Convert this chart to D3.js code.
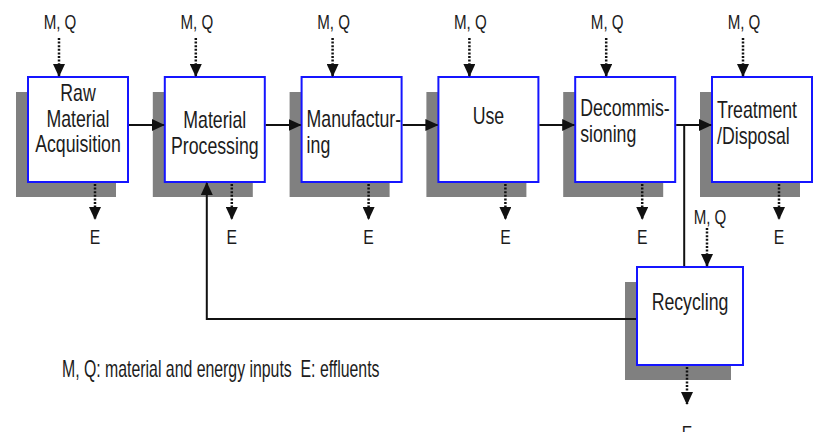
<!DOCTYPE html>
<html>
<head>
<meta charset="utf-8">
<script src="https://cdn.jsdelivr.net/npm/d3@7"></script>
<style>
  body { margin: 0; background: #fff; }
  svg { display: block; }
  text { font-family: "Liberation Sans", Arial, sans-serif; fill: #1c1c1c; white-space: pre; }
</style>
</head>
<body>
<svg id="chart" width="819" height="432"></svg>
<script>
// stages of the life cycle, in flow order
const stages = ["Raw Material Acquisition", "Material Processing", "Manufacturing",
                "Use", "Decommissioning", "Treatment/Disposal"];
const stageLines = [["Raw", "Material", "Acquisition"], ["Material", "Processing"],
                    ["Manufactur-", "ing"], ["Use"], ["Decommis-", "sioning"],
                    ["Treatment", "/Disposal"]];
const recycleStage = "Recycling";
const inputLabel = "M, Q";
const effluentLabel = "E";
const legendText = "M, Q: material and energy inputs  E: effluents";

// layout
const boxW = 100, boxH = 105, boxTop = 77;
const shadowDx = -12, shadowDy = 15;
const flowY = 125;
const labelTop = [24, 51, 50, 47, 39, 41];
const labelAlign = ["middle", "middle", "start", "middle", "start", "start"];
const lineH = 25.5;
const recycle = {cx: 690, top: 267, w: 106, h: 98};

const svg = d3.select("#chart");
const x = d3.scalePoint().domain(stages).range([78, 762]);

const defs = svg.append("defs");
defs.append("marker")
    .attr("id", "head")
    .attr("markerUnits", "userSpaceOnUse")
    .attr("viewBox", "0 0 13 12")
    .attr("markerWidth", 13)
    .attr("markerHeight", 12)
    .attr("refX", 12)
    .attr("refY", 6)
    .attr("orient", "auto")
    .append("path")
    .attr("d", "M0,0L13,6L0,12Z")
    .attr("fill", "#111");

// squeezed text, the original lettering is narrow
function label(parent, px, py, str, size, anchor, sx) {
    parent.append("g")
        .attr("transform", `translate(${px},${py}) scale(${sx},1)`)
        .append("text")
        .attr("text-anchor", anchor)
        .style("font-size", size + "px")
        .text(str);
}

function box(bx, by, w, h) {
    svg.append("rect")
        .attr("x", bx + shadowDx).attr("y", by + shadowDy)
        .attr("width", w).attr("height", h)
        .attr("fill", "#808080");
    svg.append("rect")
        .attr("x", bx).attr("y", by)
        .attr("width", w).attr("height", h)
        .attr("fill", "#fff")
        .attr("stroke", "#1515ff")
        .attr("stroke-width", 2);
}

function arrow(pts, dotted, head = true) {
    svg.append("path")
        .attr("d", d3.line()(pts))
        .attr("fill", "none")
        .attr("stroke", "#111")
        .attr("stroke-width", dotted ? 2.5 : 2)
        .attr("stroke-dasharray", dotted ? "2,1.6" : null)
        .attr("marker-end", head ? "url(#head)" : null);
}

const left = d => x(d) - boxW / 2;
const right = d => x(d) + boxW / 2;
const junctionX = right(stages[4]) + 9;
const returnX = x(stages[1]) - 8;
const recycleLeft = recycle.cx - recycle.w / 2;

// boxes first, the arrows sit on top of the shadows
stages.forEach((s, i) => {
    box(left(s), boxTop, boxW, boxH);
    const tx = labelAlign[i] === "start" ? left(s) + 5 : x(s);
    stageLines[i].forEach((ln, j) => {
        label(svg, tx, boxTop + labelTop[i] + j * lineH, ln, 23, labelAlign[i], 0.77);
    });
});
box(recycleLeft, recycle.top, recycle.w, recycle.h);
label(svg, recycle.cx, recycle.top + 43, recycleStage, 23, "middle", 0.77);

// main flow and the recycling loop
stages.slice(0, -1).forEach((s, i) => {
    arrow([[right(s) + 1, flowY], [left(stages[i + 1]) - 1, flowY]], false);
});
arrow([[junctionX, flowY], [junctionX, recycle.top - 1]], false, false);
arrow([[recycleLeft - 1, 319], [returnX, 319], [returnX, boxTop + boxH + 1]], false);

// inputs above, effluents below
stages.forEach(s => {
    const inX = x(s) - 19;
    arrow([[inX, 38], [inX, boxTop - 1]], true);
    label(svg, inX + 1, 29, inputLabel, 21, "middle", 0.72);

    const outX = x(s) + 17;
    arrow([[outX, boxTop + boxH + 2], [outX, 219]], true);
    label(svg, outX, 244, effluentLabel, 21, "middle", 0.75);
});
arrow([[recycle.cx + 17, 228], [recycle.cx + 17, recycle.top - 1]], true);
label(svg, recycle.cx + 20, 224, inputLabel, 21, "middle", 0.72);
arrow([[recycle.cx - 3, recycle.top + recycle.h + 2], [recycle.cx - 3, 404]], true);
label(svg, recycle.cx - 3, 440, effluentLabel, 21, "middle", 0.75);

// legend
label(svg, 62, 377, legendText, 24, "start", 0.66);
</script>
</body>
</html>
